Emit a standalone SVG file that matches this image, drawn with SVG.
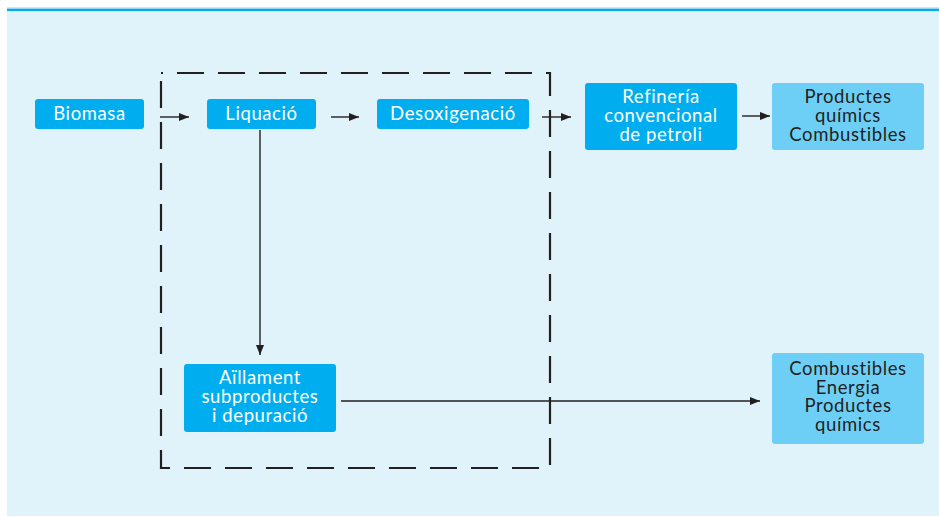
<svg xmlns="http://www.w3.org/2000/svg" width="939" height="517" viewBox="0 0 939 517">
  <defs>
    <marker id="arrow" viewBox="0 0 10 10" refX="10" refY="5" markerWidth="10" markerHeight="10" markerUnits="userSpaceOnUse" orient="auto">
      <path d="M0,1 L10,5 L0,9 Z" fill="#231f20"/>
    </marker>
    <style>
      .node { fill: #00aeef; }
      .node-light { fill: #6dcff6; }
      .label, .label-dark { font-family: "Lato", "Liberation Sans", sans-serif; font-size: 18.5px; letter-spacing: 0.6px; text-anchor: middle; }
      .label { fill: #ffffff; }
      .label-dark { fill: #231f20; }
      .edge { stroke: #231f20; stroke-width: 1.4; fill: none; marker-end: url(#arrow); }
      .frame { stroke: #231f20; stroke-width: 2.2; fill: none; stroke-dasharray: 27 14; }
    </style>
  </defs>

  <!-- panel background with top rule -->
  <rect x="7" y="9" width="932" height="507" fill="#e0f3fb"/>
  <rect x="7" y="7.5" width="932" height="1.5" fill="#8fd8f5"/>
  <rect x="7" y="9" width="932" height="2" fill="#00aeef"/>

  <!-- dashed process boundary -->
  <path class="frame" d="M161,73 H550 V468 H161 Z" stroke-dashoffset="25"/>

  <g id="connectors">
    <line class="edge" x1="160" y1="117" x2="189" y2="117"/>
    <line class="edge" x1="331" y1="117" x2="359" y2="117"/>
    <line class="edge" x1="542" y1="117" x2="571" y2="117"/>
    <line class="edge" x1="742" y1="116" x2="770" y2="116"/>
    <line class="edge" x1="260" y1="130" x2="260" y2="355"/>
    <line class="edge" x1="341" y1="401" x2="760" y2="401"/>
  </g>

  <g id="biomasa">
    <rect class="node" x="35" y="99" width="109" height="30" rx="3"/>
    <text class="label" x="89.5" y="120">Biomasa</text>
  </g>

  <g id="liquacio">
    <rect class="node" x="207" y="99" width="109" height="30" rx="3"/>
    <text class="label" x="261.5" y="120">Liquació</text>
  </g>

  <g id="desoxigenacio">
    <rect class="node" x="377" y="99" width="152" height="30" rx="3"/>
    <text class="label" x="453" y="120">Desoxigenació</text>
  </g>

  <g id="refineria">
    <rect class="node" x="585" y="83" width="152" height="67" rx="3"/>
    <text class="label" x="661" y="103">Refinería</text>
    <text class="label" x="661" y="122">convencional</text>
    <text class="label" x="661" y="141">de petroli</text>
  </g>

  <g id="productes">
    <rect class="node-light" x="772" y="83" width="152" height="67" rx="3"/>
    <text class="label-dark" x="848" y="103">Productes</text>
    <text class="label-dark" x="848" y="122">químics</text>
    <text class="label-dark" x="848" y="141">Combustibles</text>
  </g>

  <g id="aillament">
    <rect class="node" x="184" y="364" width="152" height="68" rx="3"/>
    <text class="label" x="260" y="384">Aïllament</text>
    <text class="label" x="260" y="403">subproductes</text>
    <text class="label" x="260" y="422">i depuració</text>
  </g>

  <g id="combustibles">
    <rect class="node-light" x="772" y="353" width="152" height="91" rx="3"/>
    <text class="label-dark" x="848" y="375">Combustibles</text>
    <text class="label-dark" x="848" y="393.5">Energia</text>
    <text class="label-dark" x="848" y="412">Productes</text>
    <text class="label-dark" x="848" y="430.5">químics</text>
  </g>
</svg>
